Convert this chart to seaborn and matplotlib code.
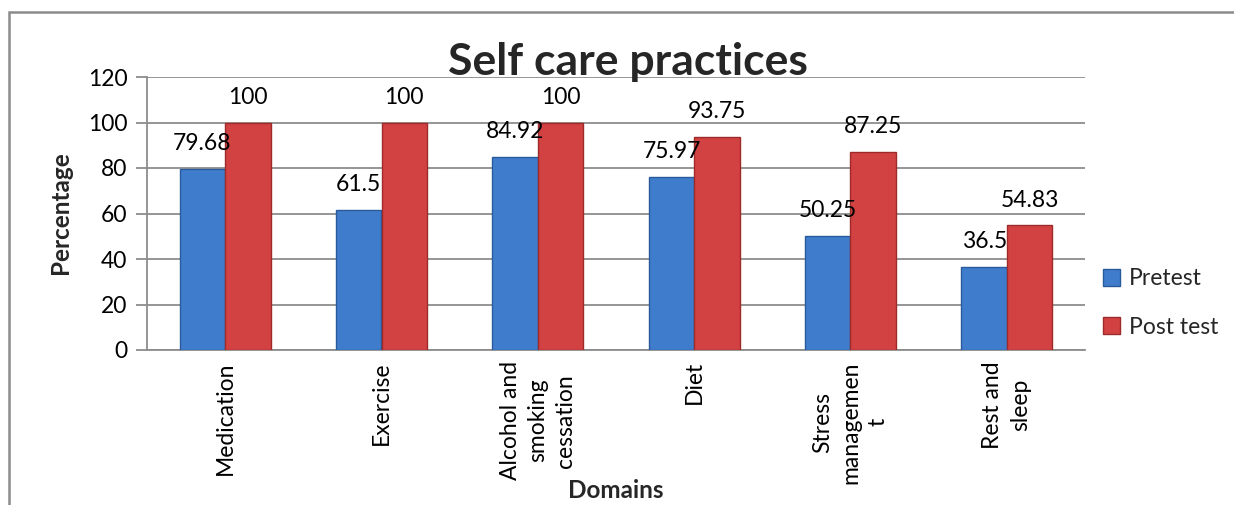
import matplotlib
matplotlib.use("Agg")
import matplotlib.pyplot as plt
import seaborn as sns
import pandas as pd
from matplotlib.patches import Rectangle

categories = ["Medication", "Exercise", "Alcohol and\nsmoking\ncessation", "Diet",
              "Stress\nmanagemen\nt", "Rest and\nsleep"]
pretest = [79.68, 61.5, 84.92, 75.97, 50.25, 36.5]
posttest = [100, 100, 100, 93.75, 87.25, 54.83]
series = ["Pretest", "Post test"]
colors = ["#3f7dcc", "#d24242"]
edge_colors = ["#2a5a9c", "#9e2a2a"]

df = pd.DataFrame({
    "Domain": categories * 2,
    "Series": [series[0]] * len(categories) + [series[1]] * len(categories),
    "Value": pretest + posttest,
})

sns.set_theme(style="white")
plt.rcParams["font.family"] = ["Lato", "DejaVu Sans"]

W, H = 1234, 505
fig = plt.figure(figsize=(W / 100, H / 100), dpi=100)
ax = fig.add_axes([147 / W, 1 - 350 / H, (1085 - 147) / W, (350 - 77) / H])

sns.barplot(data=df, x="Domain", y="Value", hue="Series", palette=colors,
            saturation=1, width=0.58, ax=ax, legend=True, zorder=3)

for cont, ec in zip(ax.containers, edge_colors):
    for p in cont:
        p.set_edgecolor(ec)
        p.set_linewidth(1.0)

fs = 16.5
for cont, vals in zip(ax.containers, [pretest, posttest]):
    for p, v in zip(cont, vals):
        ax.annotate(f"{v:g}", (p.get_x() + p.get_width() / 2, p.get_height()),
                    xytext=(0, 13.5), textcoords="offset points",
                    ha="center", va="baseline", fontsize=fs, color="black", zorder=5)

ax.set_ylim(0, 120)
ax.set_yticks(range(0, 121, 20))
ax.set_xlim(-0.5, len(categories) - 0.5)
ax.yaxis.grid(True, color="#8c8c8c", linewidth=1.3, zorder=0)
ax.set_axisbelow(True)
ax.set_xlabel("")
ax.set_ylabel("")
for s in ["top", "right"]:
    ax.spines[s].set_visible(False)
for s in ["left", "bottom"]:
    ax.spines[s].set_color("#8c8c8c")
    ax.spines[s].set_linewidth(1.3)
ax.tick_params(axis="y", which="major", left=True, length=8, width=1.3,
               color="#8c8c8c", labelsize=fs, pad=6, labelcolor="black")
ax.tick_params(axis="x", bottom=False, labelsize=fs, pad=2, labelcolor="black")
ax.set_xticks(range(len(categories)))
ax.set_xticklabels(categories, rotation=90, va="top", ha="center",
                   multialignment="center", linespacing=1.4)

handles, labels = ax.get_legend_handles_labels()
for h, ec in zip(handles, edge_colors):
    h.set_edgecolor(ec)
leg = ax.legend(handles, labels, loc="center left", bbox_to_anchor=(1103 / W, 1 - 303 / H),
                bbox_transform=fig.transFigure, frameon=False, fontsize=fs,
                handlelength=0.75, handleheight=0.75, handletextpad=0.4,
                labelspacing=1.2, borderaxespad=0, borderpad=0)

fig.text(628 / W, 1 - 75 / H, "Self care practices", ha="center", va="baseline",
         fontsize=32, fontweight="bold", zorder=10)
fig.text(60 / W, 1 - 213 / H, "Percentage", ha="center", va="center",
         rotation=90, fontsize=17.5, fontweight="bold")
fig.text(616 / W, 1 - 490 / H, "Domains", ha="center", va="center",
         fontsize=17.5, fontweight="bold")

fig.add_artist(Rectangle((9 / W, -0.2), 1.5, (1 - 12 / H) + 0.2,
                         transform=fig.transFigure, fill=False,
                         edgecolor="#8c8c8c", linewidth=1.8))

fig.savefig("out.png", dpi=100)
